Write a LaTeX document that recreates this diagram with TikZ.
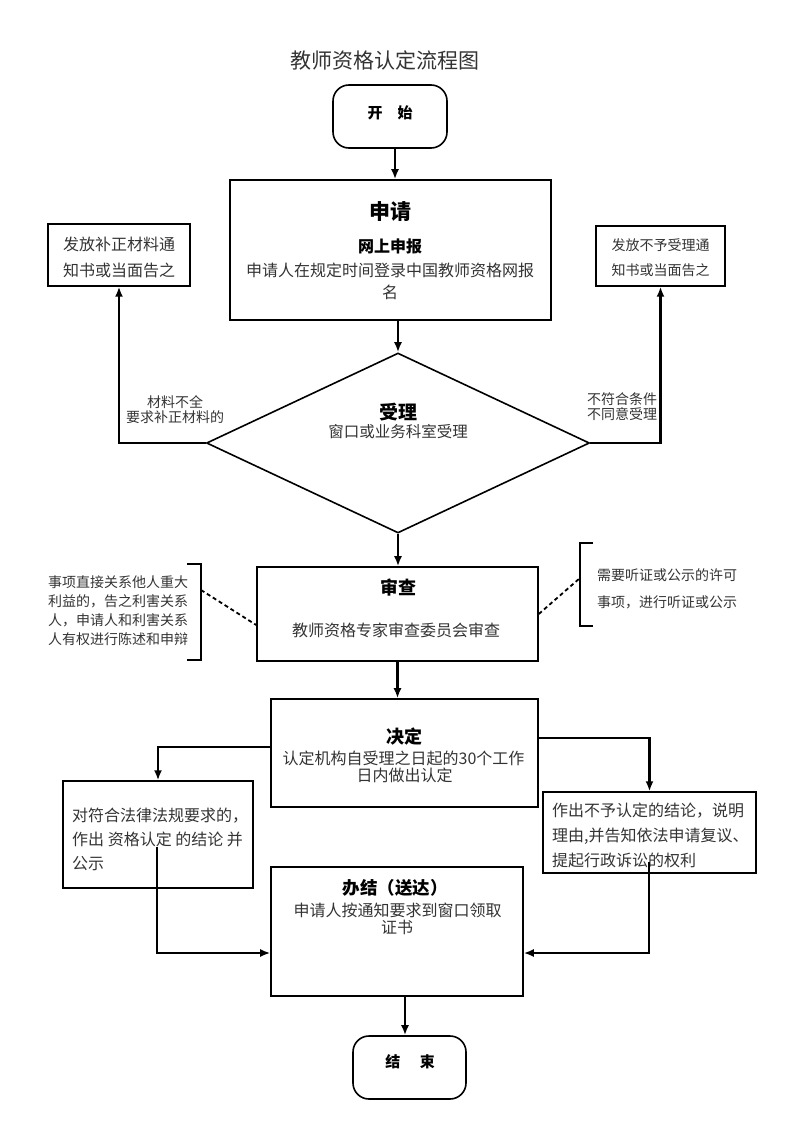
\documentclass[tikz,border=0pt]{standalone}
\usepackage{fontspec}
\setmainfont{Noto Sans CJK SC}
\usetikzlibrary{shapes.geometric,arrows.meta,calc}
\definecolor{txt}{HTML}{333333}
\begin{document}
\begin{tikzpicture}[x=1pt,y=-1pt,
  box/.style={draw=black,line width=1.6pt,inner sep=0pt,rectangle},
  term/.style={draw=black,line width=1.6pt,inner sep=0pt,rectangle,rounded corners=16pt},
  arr/.style={line width=2.2pt,-{Latex[length=10pt,width=8pt]}},
  thinarr/.style={line width=1.8pt,-{Latex[length=10pt,width=8pt]}},
  plain/.style={line width=1.8pt},
  dashline/.style={line width=1.8pt,dash pattern=on 4pt off 3pt},
  txtn/.style={text=txt,inner sep=0pt,font=\fontsize{16}{20}\selectfont},
  small/.style={text=txt,inner sep=0pt,font=\fontsize{14}{15}\selectfont},
  head/.style={text=black,inner sep=0pt,font=\bfseries\fontsize{19}{22}\selectfont},
]
\useasboundingbox (0,0) rectangle (800,1132);

% title
\node[text=txt,inner sep=0pt,font=\fontsize{21}{24}\selectfont] (title) at (385,60) {教师资格认定流程图};

% start
\node[term,minimum width=114pt,minimum height=63pt] (start) at (390,116.5) {};
\node[inner sep=0pt,font=\bfseries\fontsize{15}{18}\selectfont] (startt) at (390,113) {开\hspace{1em}始};

% apply box
\node[box,minimum width=321pt,minimum height=140pt] (sq) at (390.5,250) {};
\node[inner sep=0pt,font=\bfseries\fontsize{21}{24}\selectfont] (sq1) at (390,212) {申请};
\node[inner sep=0pt,font=\bfseries\fontsize{16}{20}\selectfont] (sq2) at (390,246) {网上申报};
\node[txtn] (sq3) at (390,270) {申请人在规定时间登录中国教师资格网报};
\node[txtn] (sq4) at (390,292) {名};

% diamond
\node[draw=black,line width=1.6pt,diamond,inner sep=0pt,minimum width=383pt,minimum height=180pt] (dia) at (398,443) {};
\node[head] (dia1) at (398,412) {受理};
\node[txtn,font=\fontsize{15.5}{18}\selectfont] (dia2) at (398,432) {窗口或业务科室受理};

% side boxes top
\node[box,line width=1.4pt,minimum width=142pt,minimum height=62pt] (bz) at (119,255) {};
\node[txtn,align=center,font=\fontsize{16}{26}\selectfont] (bzt) at (119,257) {发放补正材料通\\知书或当面告之};
\node[box,line width=1.4pt,minimum width=129pt,minimum height=60pt] (by) at (660.5,256) {};
\node[txtn,align=center,font=\fontsize{14}{25}\selectfont] (byt) at (660.5,258) {发放不予受理通\\知书或当面告之};

\node[small,align=center] (lab1) at (175,410) {材料不全\\要求补正材料的};
\node[small,align=center] (lab2) at (622,407) {不符合条件\\不同意受理};

% review box
\node[box,minimum width=281pt,minimum height=94pt] (sc) at (397.5,614) {};
\node[head,font=\bfseries\fontsize{18}{22}\selectfont] (sc1) at (398,588) {审查};
\node[txtn] (sc2) at (396,630) {教师资格专家审查委员会审查};

% brackets
\draw[plain,line width=1.4pt] (187,564) -- (201,564) -- (201,660) -- (187,660);
\coordinate (lbr) at (201,590);
\node[small,align=left,anchor=west,font=\fontsize{14}{19}\selectfont] (lbt) at (48,611) {事项直接关系他人重大\\利益的，告之利害关系\\人，申请人和利害关系\\人有权进行陈述和申辩};
\draw[plain,line width=1.4pt] (593,543) -- (580,543) -- (580,626) -- (593,626);
\coordinate (rbr) at (580,578);
\node[small,align=left,anchor=west,font=\fontsize{14}{27}\selectfont] (rbt) at (597,589) {需要听证或公示的许可\\事项，进行听证或公示};
\draw[dashline] (lbr) -- ([yshift=-11pt]sc.west);
\draw[dashline] (sc.east) -- (rbr);

% decision box
\node[box,minimum width=267pt,minimum height=108pt] (jd) at (404.5,753) {};
\node[head,font=\bfseries\fontsize{18}{22}\selectfont] (jd1) at (404,737) {决定};
\node[txtn] (jd2) at (403.5,758) {认定机构自受理之日起的30个工作};
\node[txtn] (jd3) at (404.5,775) {日内做出认定};

% result boxes
\node[box,line width=1.4pt,minimum width=190pt,minimum height=107pt] (hg) at (158,834.5) {};
\node[txtn,align=left,anchor=west,font=\fontsize{16}{24}\selectfont] (hgt) at (72,839) {对符合法律法规要求的，\\作出 资格认定 的结论 并\\公示};
\node[box,line width=1.4pt,minimum width=213pt,minimum height=81pt] (bh) at (649.5,832.5) {};
\node[txtn,align=left,anchor=west,font=\fontsize{16}{25}\selectfont] (bht) at (552,835) {作出不予认定的结论，说明\\理由,并告知依法申请复议、\\提起行政诉讼的权利};

% finish box
\node[box,minimum width=252pt,minimum height=129pt] (bj) at (397,931.5) {};
\node[inner sep=0pt,font=\bfseries\fontsize{17.5}{20}\selectfont] (bj1) at (395,888) {办结（送达）};
\node[txtn] (bj2) at (397.5,910) {申请人按通知要求到窗口领取};
\node[txtn] (bj3) at (397,927) {证书};

% end
\node[term,minimum width=113pt,minimum height=63pt] (en) at (409.5,1067.5) {};
\node[inner sep=0pt,font=\bfseries\fontsize{15}{18}\selectfont] (ent) at (410,1062) {结\hspace{1.3em}束};

% connectors
\coordinate (hgs) at (157,847);
\coordinate (bhs) at (649,862);
\draw[arr] ([xshift=5pt]start.south) -- ([xshift=5pt]start.south |- sq.north);
\draw[arr] (dia.north |- sq.south) -- (dia.north);
\draw[arr] (dia.west) -- (dia.west -| bz.south) -- (bz.south);
\draw[arr] (dia.east) -- (dia.east -| by.south) -- (by.south);
\draw[arr] (dia.south) -- (dia.south |- sc.north);
\draw[arr] (sc.south) -- (sc.south |- jd.north);
\draw[arr] ([yshift=6pt]jd.west) -- ([yshift=6pt]jd.west -| hg.north) -- (hg.north);
\draw[arr] ([yshift=15pt]jd.east) -- ([yshift=15pt]jd.east -| bh.north) -- (bh.north);
\draw[thinarr] (hgs) -- (hgs |- 0,953) -- ([yshift=-21.5pt]bj.west);
\draw[thinarr] (bhs) -- (bhs |- 0,953) -- ([yshift=-21.5pt]bj.east);
\draw[arr] ([xshift=8pt]bj.south) -- ([xshift=8pt]bj.south |- en.north);
\end{tikzpicture}
\end{document}
